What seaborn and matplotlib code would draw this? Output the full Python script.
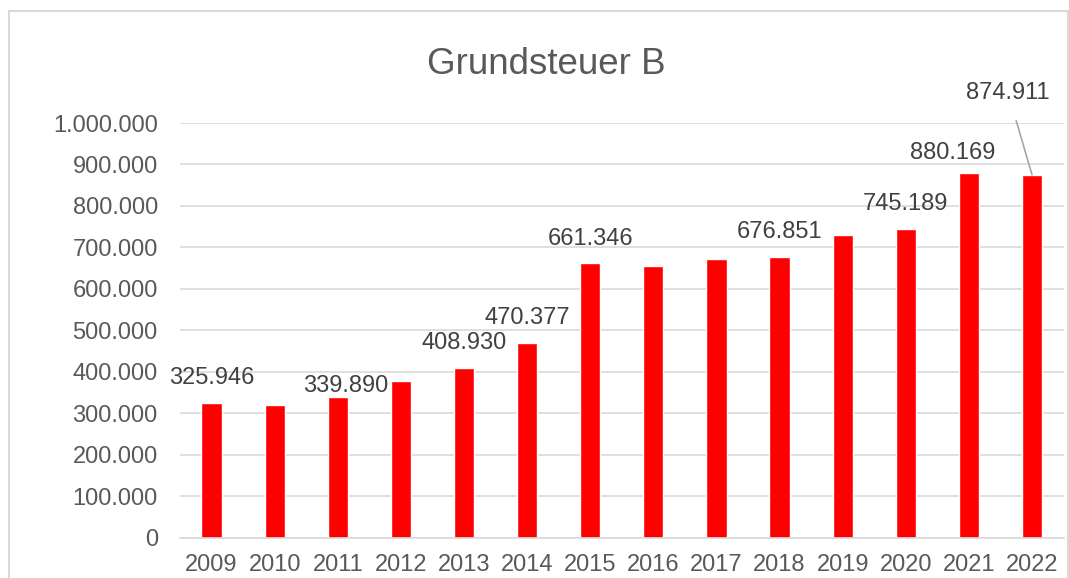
import matplotlib
matplotlib.use("Agg")
import matplotlib.pyplot as plt
from matplotlib.patches import Rectangle
import seaborn as sns
import pandas as pd

# data (unlabeled bars are estimates)
years = ["2009", "2010", "2011", "2012", "2013", "2014", "2015",
         "2016", "2017", "2018", "2019", "2020", "2021", "2022"]
values = [325946, 320000, 339890, 377000, 408930, 470377, 661346,
          654000, 672000, 676851, 731000, 745189, 880169, 874911]
labeled_years = ["2009", "2011", "2013", "2014", "2015", "2018", "2020", "2021", "2022"]
yticks = [0, 100000, 200000, 300000, 400000, 500000,
          600000, 700000, 800000, 900000, 1000000]
title = "Grundsteuer B"

df = pd.DataFrame({"Jahr": years, "Betrag": values})

sns.set_style("white")
plt.rcParams["font.family"] = ["Liberation Sans", "DejaVu Sans"]

W, H = 1069, 578
fig = plt.figure(figsize=(W / 100, H / 100), dpi=100)
ax = fig.add_axes([180 / W, 1 - 537.7 / H, (1063.6 - 180) / W, (537.7 - 123) / H])

sns.barplot(data=df, x="Jahr", y="Betrag", color="#ff0000", saturation=1,
            width=0.32, ax=ax)

ax.set_ylim(0, 1000000)
ax.set_xlim(-0.5, len(years) - 0.5)
ax.set_yticks(yticks)
ax.set_yticklabels([f"{v:,}".replace(",", ".") for v in yticks])
ax.set_xlabel("")
ax.set_ylabel("")
ax.yaxis.grid(True, color="#d9d9d9", linewidth=1.2)
ax.set_axisbelow(True)
for s in ["left", "right", "top"]:
    ax.spines[s].set_visible(False)
ax.spines["bottom"].set_color("#d9d9d9")
ax.spines["bottom"].set_linewidth(1.2)
ax.tick_params(axis="y", length=0, pad=16, labelsize=17, labelcolor="#595959")
ax.tick_params(axis="x", length=0, pad=12, labelsize=17, labelcolor="#595959")

# data labels, offsets in pixels (dx, dy) relative to bar top
offsets = {"2009": (0, 25), "2011": (8, 11), "2013": (0, 25), "2014": (0, 25),
           "2015": (0, 24), "2018": (0, 25), "2020": (0, 25), "2021": (-16, 20),
           "2022": (-24, 82)}
for i, (yr, v) in enumerate(zip(years, values)):
    if yr not in labeled_years:
        continue
    dx, dy = offsets[yr]
    txt = f"{v:,}".replace(",", ".")
    if yr == "2022":
        ax.annotate(txt, xy=(i, v), xytext=(dx * 0.72, dy * 0.72),
                    textcoords="offset points", ha="center", va="center",
                    fontsize=17, color="#404040", annotation_clip=False,
                    arrowprops=dict(arrowstyle="-", color="#a6a6a6", lw=1.2,
                                    shrinkA=10, shrinkB=0))
    else:
        ax.annotate(txt, xy=(i, v), xytext=(dx * 0.72, dy * 0.72),
                    textcoords="offset points", ha="center", va="center",
                    fontsize=17, color="#404040", annotation_clip=False)

fig.text(546.5 / W, 1 - 65 / H, title, ha="center", va="center",
         fontsize=26.5, color="#595959")

# outer chart frame
fig.patches.append(Rectangle((8.5 / W, -0.05), (1067.5 - 8.5) / W, 1.05 - 11.5 / H,
                             transform=fig.transFigure, fill=False,
                             edgecolor="#d9d9d9", linewidth=1.5))

fig.savefig("out.png", dpi=100)
